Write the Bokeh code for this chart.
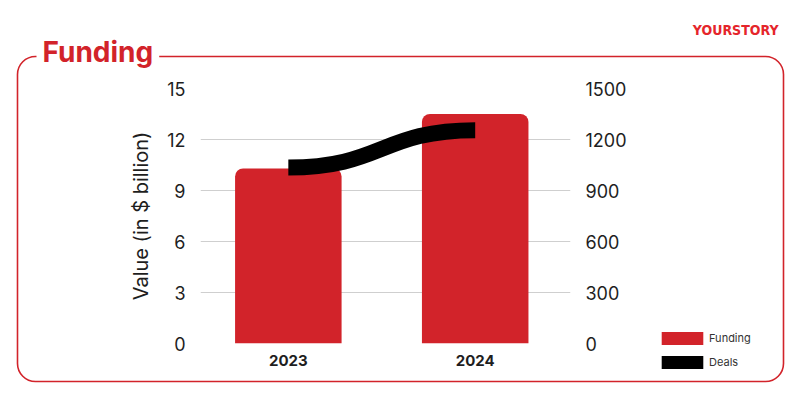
from bokeh.plotting import figure
from bokeh.models import (Range1d, LinearAxis, FixedTicker, Legend, LegendItem,
                          Label, ColumnDataSource)
from bokeh.embed import file_html
from bokeh.resources import INLINE

years = ["2023", "2024"]
funding = [10.3, 13.5]          # $ billion
deals = [1035, 1255]            # number of deals
left_ticks = [0, 3, 6, 9, 12, 15]
right_ticks = [0, 300, 600, 900, 1200, 1500]
series_names = ["Funding", "Deals"]

RED = "#d2232a"
FONT = "Inter"
TXT = "#1e1e1e"

xs = list(range(len(years)))

# ---------------- chart ----------------
p = figure(width=800, height=400, output_backend="svg", toolbar_location=None,
           x_range=Range1d(-0.47, 1.51), y_range=Range1d(0, 15),
           min_border_left=200, min_border_right=230, min_border_top=88,
           min_border_bottom=57)
p.outline_line_color = None
p.background_fill_color = "white"
p.border_fill_color = "white"

p.extra_y_ranges = {"deals": Range1d(0, 1500)}

src = ColumnDataSource(dict(x=xs, funding=funding))
p.vbar(x="x", top="funding", width=0.57, source=src, fill_color=RED,
       line_color=None, border_radius=(8, 8, 0, 0))

mid = [(xs[i] + xs[i + 1]) / 2 for i in range(len(xs) - 1)]
p.bezier(x0=xs[:-1], y0=deals[:-1], x1=xs[1:], y1=deals[1:],
         cx0=mid, cy0=deals[:-1], cx1=mid, cy1=deals[1:],
         line_color="black", line_width=16, line_cap="butt",
         y_range_name="deals")

p.xaxis.ticker = FixedTicker(ticks=xs)
p.xaxis.major_label_overrides = {i: y for i, y in enumerate(years)}
p.xaxis.major_label_text_font = FONT
p.xaxis.major_label_text_font_style = "bold"
p.xaxis.major_label_text_font_size = "15px"
p.xaxis.major_label_text_color = TXT
p.xaxis.major_label_standoff = 5

p.yaxis.ticker = FixedTicker(ticks=left_ticks)
p.yaxis.axis_label = "Value (in $ billion)"
p.yaxis.axis_label_text_font = FONT
p.yaxis.axis_label_text_font_style = "normal"
p.yaxis.axis_label_text_font_size = "20px"
p.yaxis.axis_label_text_color = TXT
p.yaxis.axis_label_standoff = 11
p.yaxis.major_label_text_font = FONT
p.yaxis.major_label_text_font_size = "18px"
p.yaxis.major_label_text_color = TXT
p.yaxis.major_label_standoff = 9

ry = LinearAxis(y_range_name="deals", ticker=FixedTicker(ticks=right_ticks))
ry.major_label_text_font = FONT
ry.major_label_text_font_size = "18px"
ry.major_label_text_color = TXT
ry.major_label_standoff = 9
p.add_layout(ry, "right")

for ax in [p.xaxis[0], p.yaxis[0], ry]:
    ax.axis_line_color = None
    ax.major_tick_line_color = None
    ax.minor_tick_line_color = None

p.xgrid.grid_line_color = None
p.ygrid.ticker = FixedTicker(ticks=left_ticks[:-1])
p.ygrid.grid_line_color = "#cfcfcf"
p.ygrid.grid_line_width = 1

# ---------------- decoration overlay (pixel coordinates) ----------------
d = figure(width=800, height=400, output_backend="svg", toolbar_location=None,
           x_range=Range1d(0, 800), y_range=Range1d(400, 0),
           min_border=0, min_border_left=0, min_border_right=0,
           min_border_top=0, min_border_bottom=0)
d.axis.visible = False
d.grid.visible = False
d.outline_line_color = None
d.background_fill_alpha = 0
d.border_fill_alpha = 0

d.quad(left=[17], right=[783], top=[56], bottom=[381], fill_alpha=0,
       line_color=RED, line_width=1.6, border_radius=18)

d.add_layout(Label(x=36, y=51, text="Funding", text_font=FONT,
                   text_font_style="bold", text_font_size="28px",
                   text_color=RED, text_baseline="middle", text_align="left",
                   background_fill_color="white", padding=6))
d.add_layout(Label(x=778, y=29, text="YOURSTORY",
                   text_font="DejaVu Sans Condensed", text_font_style="bold",
                   text_font_size="14px", text_color="#e5252b",
                   text_baseline="middle", text_align="right"))

# zero-size legend keys (nothing visible is drawn in the overlay)
key_f = d.vbar(x=[0], top=[0], bottom=[0], width=0, fill_color=RED, line_color=None)
key_d = d.vbar(x=[0], top=[0], bottom=[0], width=0, fill_color="black", line_color=None)
legend = Legend(items=[LegendItem(label=series_names[0], renderers=[key_f]),
                       LegendItem(label=series_names[1], renderers=[key_d])],
                location=(656, 30), orientation="vertical",
                glyph_width=52, glyph_height=16, label_height=16,
                spacing=8, padding=0, margin=0, border_line_color=None,
                background_fill_alpha=0, label_text_font=FONT,
                label_text_font_size="11px", label_text_color="#333333",
                label_standoff=1)
d.add_layout(legend, "center")

d.styles = {"position": "absolute", "left": "0px", "top": "0px"}

open("out.html", "w").write(file_html([p, d], INLINE))
